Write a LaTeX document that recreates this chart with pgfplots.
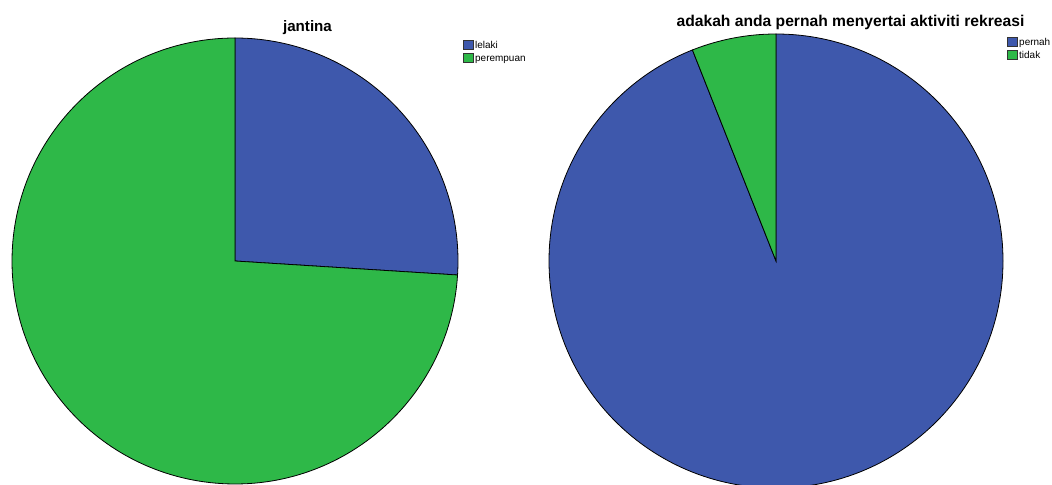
\documentclass[border=0pt]{standalone}
\usepackage{pgfplots}
\usepackage{pgfplotstable}
\pgfplotsset{compat=1.18}
\usepackage{fontspec}
\setmainfont{Liberation Sans}

\definecolor{pblue}{HTML}{3E58AC}
\definecolor{pgreen}{HTML}{2EB848}

% percentages
\pgfplotstableread{
label value
lelaki 26
perempuan 74
}\jantina
\pgfplotstableread{
label value
pernah 94
tidak 6
}\rekreasi

\begin{document}
\begin{tikzpicture}
% slice boundaries, starting at 12 o'clock and going clockwise
\pgfplotstablegetelem{0}{value}\of\jantina \let\ja\pgfplotsretval
\pgfplotstablegetelem{1}{value}\of\jantina \let\jb\pgfplotsretval
\pgfmathsetmacro\jcut{90-360*(\ja/(\ja+\jb))}
\pgfplotstablegetelem{0}{value}\of\rekreasi \let\ra\pgfplotsretval
\pgfplotstablegetelem{1}{value}\of\rekreasi \let\rb\pgfplotsretval
\pgfmathsetmacro\rcut{90-360*(\ra/(\ra+\rb))}
\useasboundingbox (0,0) rectangle (1052bp,485bp);
\clip (0,0) rectangle (1052bp,485bp);
\begin{axis}[
  scale only axis, width=1052bp, height=485bp,
  xmin=0, xmax=1052, ymin=0, ymax=485,
  hide axis, clip=false,
]
  \addplot[draw=none] coordinates {(0,0) (1052,485)};
  % jantina
  \filldraw[fill=pblue, draw=black, line width=0.8bp]
    (axis cs:235,224) -- ++(90:223bp) arc[start angle=90, end angle=\jcut, radius=223bp] -- cycle;
  \filldraw[fill=pgreen, draw=black, line width=0.8bp]
    (axis cs:235,224) -- ++(\jcut:223bp) arc[start angle=\jcut, end angle=-270, radius=223bp] -- cycle;
  \node[anchor=base, font=\fontsize{15.2}{18}\selectfont\bfseries] at (axis cs:307.5,453.3) {jantina};
  \filldraw[fill=pblue, draw=black!80, line width=0.6bp] (axis cs:463,445) rectangle (axis cs:473,436);
  \filldraw[fill=pgreen, draw=black!80, line width=0.6bp] (axis cs:463,432) rectangle (axis cs:473,422.5);
  \node[anchor=base west, inner sep=0pt, font=\fontsize{10}{12}\selectfont] at (axis cs:475,436.5) {lelaki};
  \node[anchor=base west, inner sep=0pt, font=\fontsize{10}{12}\selectfont] at (axis cs:475,423) {perempuan};
  % rekreasi
  \filldraw[fill=pblue, draw=black, line width=0.8bp]
    (axis cs:776,224) -- ++(90:227bp) arc[start angle=90, end angle=\rcut, radius=227bp] -- cycle;
  \filldraw[fill=pgreen, draw=black, line width=0.8bp]
    (axis cs:776,224) -- ++(\rcut:227bp) arc[start angle=\rcut, end angle=-270, radius=227bp] -- cycle;
  \node[anchor=base, font=\fontsize{15.7}{18}\selectfont\bfseries] at (axis cs:850.5,458.3) {adakah anda pernah menyertai aktiviti rekreasi};
  \filldraw[fill=pblue, draw=black!80, line width=0.6bp] (axis cs:1007,448) rectangle (axis cs:1017,439);
  \filldraw[fill=pgreen, draw=black!80, line width=0.6bp] (axis cs:1007,435) rectangle (axis cs:1017,426);
  \node[anchor=base west, inner sep=0pt, font=\fontsize{10}{12}\selectfont] at (axis cs:1019,439.5) {pernah};
  \node[anchor=base west, inner sep=0pt, font=\fontsize{10}{12}\selectfont] at (axis cs:1019,426.5) {tidak};
\end{axis}
\end{tikzpicture}
\end{document}
